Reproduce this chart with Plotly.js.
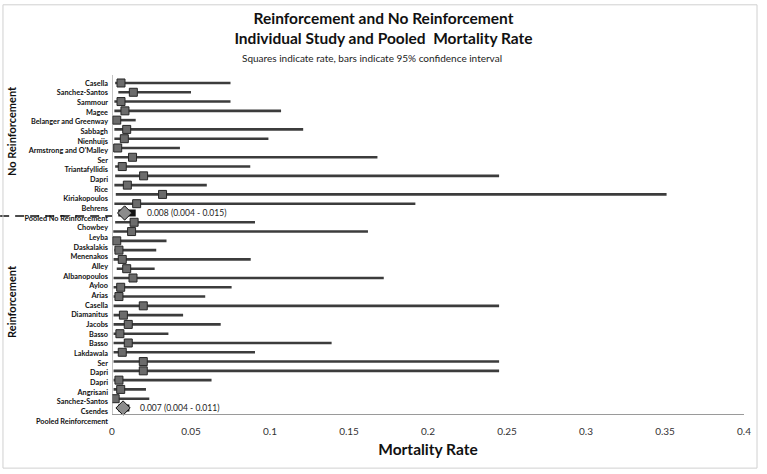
<!DOCTYPE html>
<html><head><meta charset="utf-8">
<script src="https://cdn.plot.ly/plotly-3.0.1.min.js"></script>
<style>html,body{margin:0;padding:0;background:#fff}#chart{width:767px;height:474px}</style>
</head><body><div id="chart"></div>
<script>
// ---- Data ----
const noReinfStudies = ['Casella','Sanchez-Santos','Sammour','Magee','Belanger and Greenway','Sabbagh','Nienhuijs',"Armstrong and O'Malley",'Ser','Triantafyllidis','Dapri','Rice','Kiriakopoulos','Behrens'];
const noReinfRate = [0.0057,0.0135,0.0057,0.0082,0.003,0.0093,0.0078,0.0036,0.013,0.0065,0.020,0.0097,0.032,0.0156];
const noReinfLow  = [0.002,0.004,0.0015,0.0015,0.001,0.0015,0.0015,0.0015,0.0015,0.002,0.002,0.0015,0.0024,0.0015];
const noReinfHigh = [0.075,0.050,0.075,0.107,0.015,0.121,0.099,0.043,0.168,0.0875,0.245,0.060,0.351,0.192];

const reinfStudies = ['Chowbey','Leyba','Daskalakis','Menenakos','Alley','Albanopoulos','Ayloo','Arias','Casella','Diamanitus','Jacobs','Basso','Basso','Lakdawala','Ser','Dapri','Dapri','Angrisani','Sanchez-Santos','Csendes'];
const reinfRate = [0.014,0.0124,0.003,0.0044,0.0065,0.0093,0.0133,0.0055,0.0044,0.0198,0.0072,0.0103,0.005,0.0103,0.0065,0.0198,0.0198,0.0044,0.0055,0.002];
const reinfLow  = [0.002,0.0008,0.0008,0.0015,0.001,0.003,0.001,0.001,0.001,0.001,0.001,0.001,0.001,0.001,0.001,0.001,0.001,0.001,0.001,0.0005];
const reinfHigh = [0.0905,0.162,0.0345,0.028,0.0878,0.027,0.172,0.0757,0.059,0.245,0.045,0.0688,0.0357,0.139,0.0905,0.245,0.245,0.063,0.0215,0.0236];

const pooledNames = ['Pooled No Reinforcement','Pooled Reinforcement'];
const pooledRate = [0.008,0.007];
const pooledLow  = [0.004,0.004];
const pooledHigh = [0.015,0.011];

const xTicks = [0,0.05,0.1,0.15,0.2,0.25,0.3,0.35,0.4];
const xTickText = ['0','0.05','0.1','0.15','0.2','0.25','0.3','0.35','0.4'];

// ---- Row layout ----
const rowLabels = noReinfStudies.concat([pooledNames[0]], reinfStudies, [pooledNames[1]]);
const rowIdx = rowLabels.map((_, i) => i);
const nrRows = noReinfStudies.map((_, i) => i);
const pNR = noReinfStudies.length;
const rRows = reinfStudies.map((_, i) => pNR + 1 + i);
const pR = pNR + 1 + reinfStudies.length;

const FONT = 'Lato, "Open Sans", sans-serif';
const sub = (a, b) => a.map((v, i) => v - b[i]);

const studyStyle = {
  type: 'scatter', mode: 'markers', xaxis: 'x', yaxis: 'y', hoverinfo: 'x',
  marker: {symbol: 'square', size: 8, color: '#6b6b6b', line: {color: '#262626', width: 1}},
};

const traces = [
  Object.assign({}, studyStyle, {
    x: noReinfRate, y: nrRows,
    error_x: {type: 'data', symmetric: false, array: sub(noReinfHigh, noReinfRate), arrayminus: sub(noReinfRate, noReinfLow), width: 0, thickness: 2.6, color: '#3c3c3c'}
  }),
  Object.assign({}, studyStyle, {
    x: reinfRate, y: rRows,
    error_x: {type: 'data', symmetric: false, array: sub(reinfHigh, reinfRate), arrayminus: sub(reinfRate, reinfLow), width: 0, thickness: 2.6, color: '#3c3c3c'}
  }),
  {
    type: 'scatter', mode: 'markers', xaxis: 'x', yaxis: 'y', x: pooledRate, y: [pNR, pR], hoverinfo: 'x',
    marker: {symbol: 'diamond', size: 11, color: '#8c8c8c', line: {color: '#111', width: 1}},
    error_x: {type: 'data', symmetric: false, array: sub(pooledHigh, pooledRate), arrayminus: sub(pooledRate, pooledLow), width: 0, thickness: 7, color: '#111'}
  },
  { // carrier for the label axis
    type: 'scatter', mode: 'markers', xaxis: 'x', yaxis: 'y2', x: rowIdx.map(() => 0), y: rowIdx,
    marker: {opacity: 0}, hoverinfo: 'skip', showlegend: false
  }
];

const pooledAnn = pooledRate.map((r, i) => ({
  xref: 'x', yref: 'y', x: pooledHigh[i], y: [pNR, pR][i], xanchor: 'left', xshift: 9, showarrow: false,
  text: `${r.toFixed(3)} (${pooledLow[i].toFixed(3)} - ${pooledHigh[i].toFixed(3)})`,
  font: {family: FONT, size: 8.5, color: '#222'}
}));

const layout = {
  width: 767, height: 474,
  margin: {l: 112, r: 23, t: 75, b: 48},
  paper_bgcolor: '#fff', plot_bgcolor: '#fff',
  showlegend: false,
  font: {family: FONT, color: '#111'},
  title: {
    text: '<b>Reinforcement and No Reinforcement</b><br><b>Individual Study and Pooled  Mortality Rate</b>',
    x: 0.5, xref: 'container', xanchor: 'center', y: 0.949, yanchor: 'top', yref: 'container',
    font: {family: FONT, size: 15.5, color: '#111'}
  },
  xaxis: {
    range: [0, 0.4], tickvals: xTicks, ticktext: xTickText, anchor: 'free', position: 0.034,
    showgrid: false, zeroline: false, showline: true, linecolor: '#9a9a9a', linewidth: 1, ticks: '',
    tickfont: {family: FONT, size: 10, color: '#333'}, ticklabelstandoff: 8,
    title: {text: '<b>Mortality Rate</b>', font: {family: FONT, size: 15.5, color: '#111'}, standoff: 8}
  },
  yaxis: {range: [36.94, -0.86], visible: false, showgrid: false, zeroline: false},
  yaxis2: {
    overlaying: 'y', side: 'left', anchor: 'x', range: [35.52, -0.83],
    tickvals: rowIdx, ticktext: rowLabels, ticks: '', showgrid: false, zeroline: false, showline: false,
    tickfont: {family: FONT, size: 7.3, color: '#111', weight: 'bold'}, ticklabelstandoff: 3
  },
  shapes: [
    {type: 'line', xref: 'x', yref: 'paper', x0: 0, x1: 0, y0: 0.034, y1: 1, line: {color: '#8a8a8a', width: 1}},
    {type: 'line', xref: 'paper', yref: 'paper', x0: -0.177, x1: 0, y0: 0.598, y1: 0.598, line: {color: '#111', width: 1.5, dash: '9px,6px'}},
    {type: 'rect', xref: 'paper', yref: 'paper', x0: -0.1725, x1: 1.0206, y0: -0.12, y1: 1.2, line: {color: '#d0d0d0', width: 1}}
  ],
  annotations: [
    {xref: 'paper', yref: 'paper', x: 0.411, y: 1.048, xanchor: 'center', yanchor: 'middle', showarrow: false,
     text: 'Squares indicate rate, bars indicate 95% confidence interval', font: {family: FONT, size: 10, color: '#222'}},
    {xref: 'paper', yref: 'paper', x: -0.16, y: 0.840, xanchor: 'center', yanchor: 'middle', textangle: -90, showarrow: false,
     text: '<b>No Reinforcement</b>', font: {family: FONT, size: 11, color: '#111'}},
    {xref: 'paper', yref: 'paper', x: -0.16, y: 0.356, xanchor: 'center', yanchor: 'middle', textangle: -90, showarrow: false,
     text: '<b>Reinforcement</b>', font: {family: FONT, size: 11, color: '#111'}}
  ].concat(pooledAnn)
};

Plotly.newPlot('chart', traces, layout, {displayModeBar: false, staticPlot: true});
</script></body></html>
